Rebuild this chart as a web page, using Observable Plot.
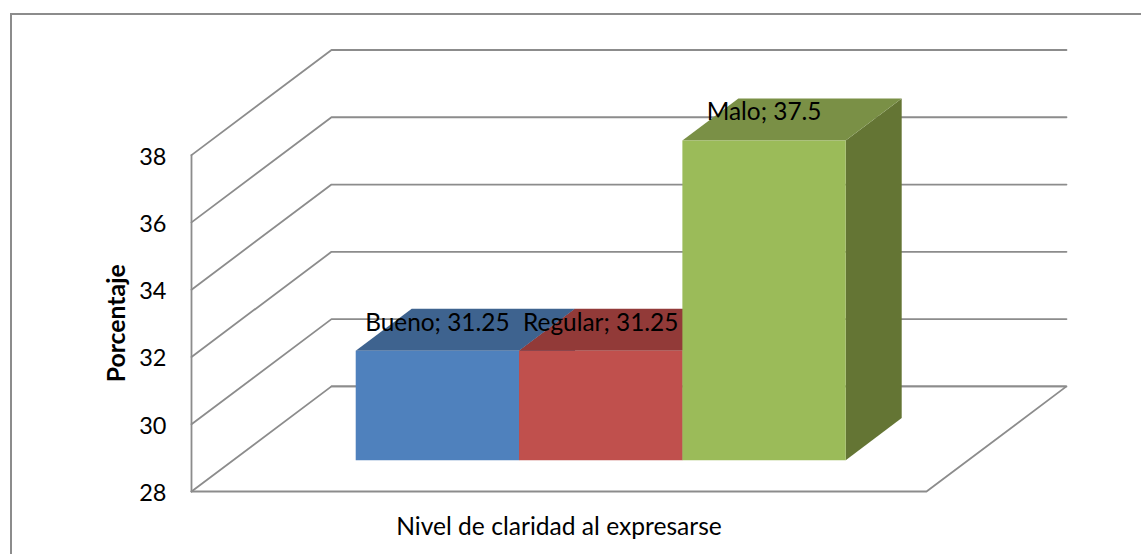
<!DOCTYPE html>
<html>
<head>
<meta charset="utf-8">
<script src="https://cdn.jsdelivr.net/npm/d3@7"></script>
<script src="https://cdn.jsdelivr.net/npm/@observablehq/plot@0.6"></script>
<style>
html,body{margin:0;padding:0;background:#fff;overflow:hidden}
#wrap{position:relative;width:1141px;height:554px}
#frame{position:absolute;left:10px;top:13px;right:-5px;bottom:-5px;border:2px solid #8c8c8c}
#chart{position:absolute;left:0;top:0}
#chart svg{background:transparent}
</style>
</head>
<body>
<div id="wrap"><div id="frame"></div><div id="chart"></div></div>
<script>
// Data
const categories = ["Bueno", "Regular", "Malo"];
const values = [31.25, 31.25, 37.5];
const frontColors = ["#4f81bd", "#c0504d", "#9bbb59"];
const topColors = ["#3e638f", "#923a38", "#7a9046"];
const sideColors = ["#3a5c86", "#8a3634", "#647534"];
const yTicks = [28, 30, 32, 34, 36, 38];
const yLabel = "Porcentaje";
const xLabel = "Nivel de claridad al expresarse";

// Oblique 3D projection in data units: u = bar widths, v = percent, t = depth 0..1
const xMin = -0.75, xMax = 3.75, yMin = 28, yMax = 38;
const depthU = 0.857, depthV = 3.125;
const barFront = 0.298, barBack = 0.698;
const P = (u, v, t) => ({x: u + t * depthU, y: v + t * depthV});

// Walls and floor
const gridLines = yTicks.map((v) => [P(xMin, v, 0), P(xMin, v, 1), P(xMax, v, 1)]);
const leftEdge = [P(xMin, yMin, 0), P(xMin, yMax, 0)];
const floor = [P(xMin, yMin, 1), P(xMax, yMin, 1), P(xMax, yMin, 0), P(xMin, yMin, 0)];

const lineStyle = {x: "x", y: "y", stroke: "#8c8c8c", strokeWidth: 1.8, strokeLinejoin: "miter", curve: "linear"};
const font = "Lato, 'Open Sans', sans-serif";

const faces = [];
categories.forEach((c, i) => {
  const v = values[i];
  faces.push(Plot.line([P(i + 1, yMin, barFront), P(i + 1, yMin, barBack), P(i + 1, v, barBack), P(i + 1, v, barFront)],
    {x: "x", y: "y", fill: sideColors[i], stroke: "none"}));
});
categories.forEach((c, i) => {
  const v = values[i];
  faces.push(Plot.line([P(i, v, barFront), P(i, v, barBack), P(i + 1, v, barBack), P(i + 1, v, barFront)],
    {x: "x", y: "y", fill: topColors[i], stroke: "none"}));
});
categories.forEach((c, i) => {
  const v = values[i];
  faces.push(Plot.line([P(i, yMin, barFront), P(i, v, barFront), P(i + 1, v, barFront), P(i + 1, yMin, barFront)],
    {x: "x", y: "y", fill: frontColors[i], stroke: "none"}));
});

const labels = categories.map((c, i) => ({
  x: P(i + 0.5, values[i], barFront).x,
  y: P(i + 0.5, values[i], barFront).y,
  text: `${c}; ${values[i]}`
}));

const chart = Plot.plot({
  width: 1141,
  height: 554,
  marginLeft: 191,
  marginRight: 215,
  marginTop: 154.6,
  marginBottom: 63,
  x: {domain: [xMin, xMax], axis: null},
  y: {domain: [yMin, yMax], axis: null},
  style: {fontFamily: font, background: "transparent"},
  marks: [
    ...gridLines.map((g) => Plot.line(g, lineStyle)),
    Plot.line(leftEdge, lineStyle),
    Plot.line(floor, lineStyle),
    ...faces,
    Plot.axisY({
      ticks: yTicks, anchor: "left", tickSize: 0, tickPadding: 25, label: null,
      fontSize: 23.5, dy: 2, fill: "#000", tickFormat: (d) => d
    }),
    Plot.text(labels, {x: "x", y: "y", text: "text", fontSize: 24.4, fill: "#000", dy: -28}),
    Plot.text([yLabel], {text: (d) => d, frameAnchor: "left", textAnchor: "middle", rotate: -90, dx: -74, fontSize: 24.8, fontWeight: "bold", fill: "#000"}),
    Plot.text([xLabel], {text: (d) => d, frameAnchor: "bottom", dy: 43, fontSize: 24.6, fill: "#000"})
  ]
});
document.getElementById("chart").appendChild(chart);
</script>
</body>
</html>
